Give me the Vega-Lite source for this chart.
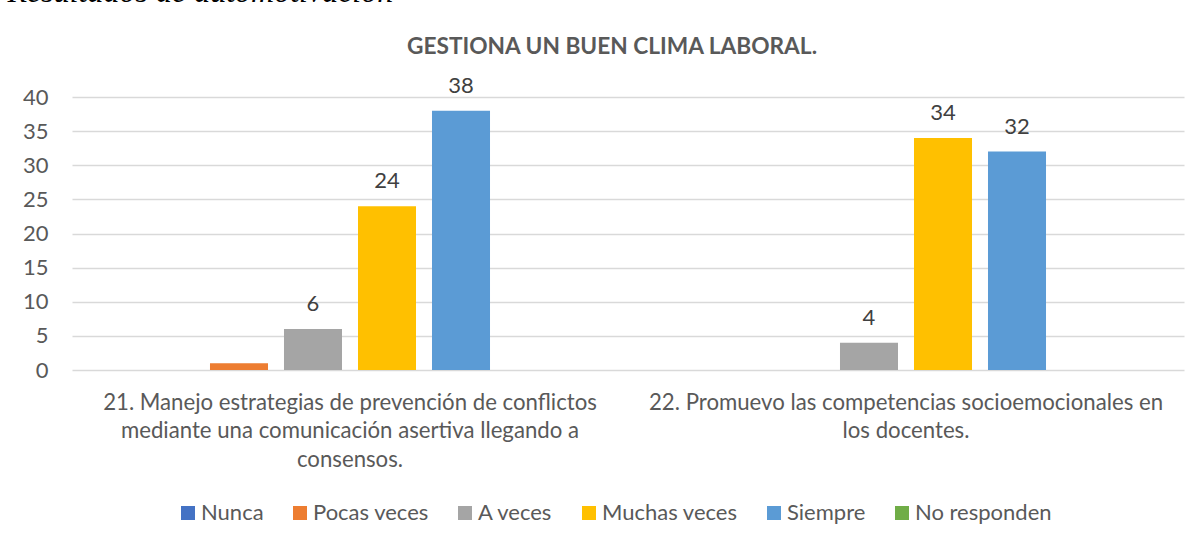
{
  "$schema": "https://vega.github.io/schema/vega-lite/v6.json",
  "width": 1112,
  "height": 273,
  "autosize": {"type": "none"},
  "padding": {"left": 72, "top": 97, "right": 17, "bottom": 173},
  "background": "white",
  "config": {"view": {"stroke": null}, "font": "Lato"},
  "title": {
    "text": "GESTIONA UN BUEN CLIMA LABORAL.",
    "anchor": "middle",
    "dx": -16,
    "offset": -102,
    "baseline": "alphabetic",
    "font": "Lato",
    "fontSize": 22.7,
    "fontWeight": "bold",
    "color": "#595959"
  },
  "data": {
    "values": [
      {"pregunta": "21", "respuesta": "Nunca", "valor": 0},
      {"pregunta": "21", "respuesta": "Pocas veces", "valor": 1},
      {"pregunta": "21", "respuesta": "A veces", "valor": 6},
      {"pregunta": "21", "respuesta": "Muchas veces", "valor": 24},
      {"pregunta": "21", "respuesta": "Siempre", "valor": 38},
      {"pregunta": "21", "respuesta": "No responden", "valor": 0},
      {"pregunta": "22", "respuesta": "Nunca", "valor": 0},
      {"pregunta": "22", "respuesta": "Pocas veces", "valor": 0},
      {"pregunta": "22", "respuesta": "A veces", "valor": 4},
      {"pregunta": "22", "respuesta": "Muchas veces", "valor": 34},
      {"pregunta": "22", "respuesta": "Siempre", "valor": 32},
      {"pregunta": "22", "respuesta": "No responden", "valor": 0}
    ]
  },
  "encoding": {
    "x": {
      "field": "pregunta",
      "type": "nominal",
      "scale": {"paddingInner": 0.2014, "paddingOuter": 0.1007},
      "axis": {
        "title": null,
        "labelAngle": 0,
        "domain": false,
        "ticks": false,
        "labelPadding": 21,
        "labelBaseline": "top",
        "labelFont": "Lato",
        "labelFontSize": 22.2,
        "labelColor": "#595959",
        "labelLineHeight": 28.5,
        "labelLimit": 800,
        "labelExpr": "datum.value == '21' ? ['21. Manejo estrategias de prevención de conflictos', 'mediante una comunicación asertiva llegando a', 'consensos.'] : ['22.  Promuevo las competencias socioemocionales en', 'los docentes.']"
      }
    },
    "xOffset": {
      "field": "respuesta",
      "type": "nominal",
      "scale": {
        "domain": ["Nunca", "Pocas veces", "A veces", "Muchas veces", "Siempre", "No responden"],
        "paddingInner": 0.216,
        "paddingOuter": 0.108
      }
    },
    "y": {
      "field": "valor",
      "type": "quantitative",
      "scale": {"domain": [0, 40], "nice": false},
      "axis": {
        "title": "Resultados de automotivación",
        "titleAngle": 0,
        "titleX": -65,
        "titleY": -96,
        "titleAlign": "left",
        "titleBaseline": "alphabetic",
        "titleFont": "Liberation Serif",
        "titleFontStyle": "italic",
        "titleFontWeight": "normal",
        "titleFontSize": 32,
        "titleColor": "#000000",
        "values": [0, 5, 10, 15, 20, 25, 30, 35, 40],
        "grid": true,
        "gridColor": "#D9D9D9",
        "gridWidth": 1.5,
        "domain": false,
        "ticks": false,
        "labelFont": "Lato",
        "labelFontSize": 22,
        "labelColor": "#595959",
        "labelPadding": 24
      }
    }
  },
  "layer": [
    {
      "mark": {"type": "bar"},
      "encoding": {
        "color": {
          "field": "respuesta",
          "type": "nominal",
          "scale": {
            "domain": ["Nunca", "Pocas veces", "A veces", "Muchas veces", "Siempre", "No responden"],
            "range": ["#4472C4", "#ED7D31", "#A5A5A5", "#FFC000", "#5B9BD5", "#70AD47"]
          },
          "legend": {
            "orient": "none",
            "legendX": 105,
            "legendY": 405,
            "direction": "horizontal",
            "title": null,
            "symbolType": "square",
            "symbolSize": 196,
            "symbolStrokeWidth": 0,
            "labelFont": "Lato",
            "labelFontSize": 22,
            "labelColor": "#595959",
            "labelOffset": 2,
            "columnPadding": 25
          }
        }
      }
    },
    {
      "transform": [{"filter": "datum.valor > 1"}],
      "mark": {"type": "text", "baseline": "alphabetic", "dy": -18, "fontSize": 22, "font": "Lato", "color": "#404040"},
      "encoding": {
        "text": {"field": "valor", "type": "quantitative"}
      }
    }
  ]
}
